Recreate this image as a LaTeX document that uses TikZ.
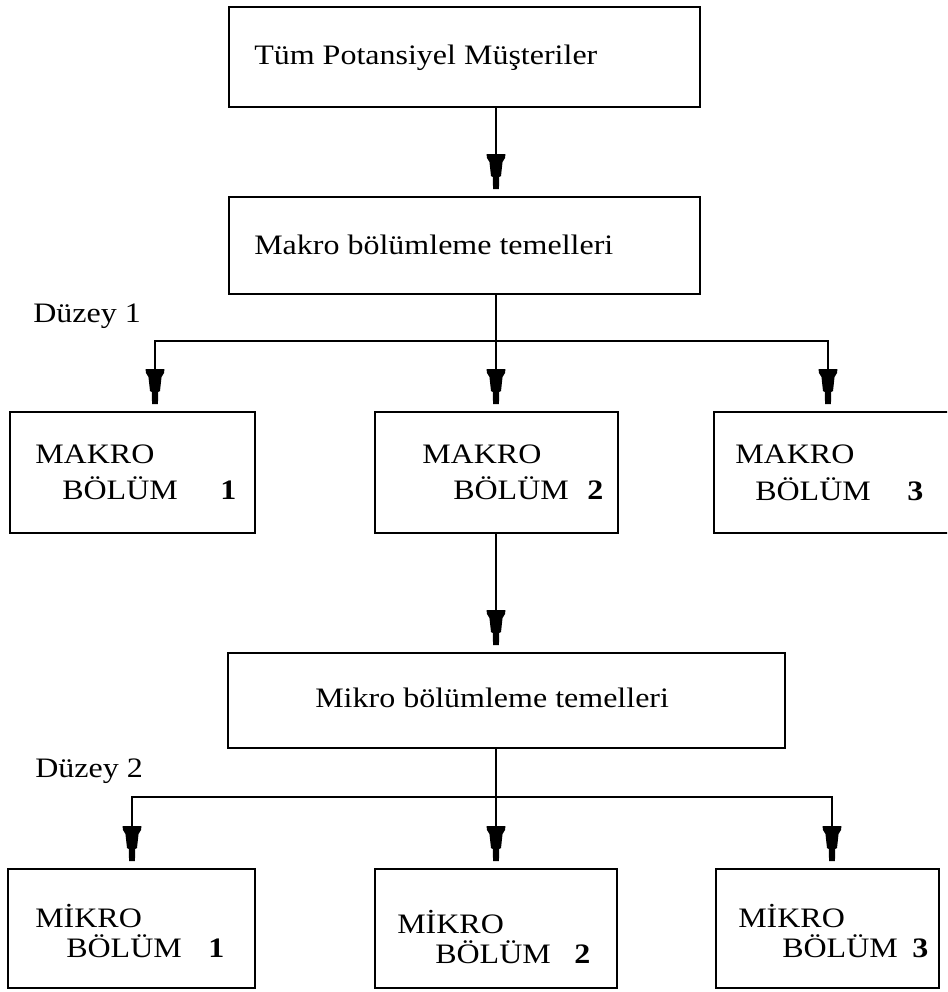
\documentclass[tikz,border=0pt]{standalone}
\usepackage{fontspec}
\setmainfont{Liberation Serif}
\usetikzlibrary{arrows.meta,fit}

% Tack-shaped arrow head: wide flat back, tapering body, narrow stem at the tip
\pgfdeclarearrow{
  name = Tack,
  setup code = {
    \pgfarrowssettipend{0pt}
    \pgfarrowssetlineend{-6pt}
    \pgfarrowssetbackend{-26.25pt}
  },
  drawing code = {
    \pgfpathmoveto{\pgfqpoint{0pt}{2.2pt}}
    \pgfpathlineto{\pgfqpoint{-9pt}{2.4pt}}
    \pgfpathlineto{\pgfqpoint{-9.75pt}{3.75pt}}
    \pgfpathlineto{\pgfqpoint{-20.25pt}{4.9pt}}
    \pgfpathlineto{\pgfqpoint{-23.25pt}{6.75pt}}
    \pgfpathlineto{\pgfqpoint{-26.25pt}{7.1pt}}
    \pgfpathlineto{\pgfqpoint{-26.25pt}{-7.1pt}}
    \pgfpathlineto{\pgfqpoint{-23.25pt}{-6.75pt}}
    \pgfpathlineto{\pgfqpoint{-20.25pt}{-4.9pt}}
    \pgfpathlineto{\pgfqpoint{-9.75pt}{-3.75pt}}
    \pgfpathlineto{\pgfqpoint{-9pt}{-2.4pt}}
    \pgfpathlineto{\pgfqpoint{0pt}{-2.2pt}}
    \pgfpathclose
    \pgfusepathqfill
  }
}

\newcommand\sqz[1]{\scalebox{1}[0.88]{#1}}

\tikzset{
  box/.style={draw, line width=1.5pt, rectangle, inner sep=0pt},
  lbl/.style={anchor=base west, inner sep=0pt, font=\fontsize{24}{28}\selectfont},
  num/.style={lbl, font=\fontsize{24}{28}\selectfont\bfseries},
  conn/.style={line width=1.5pt, line cap=rect},
  arr/.style={line width=1.5pt, -Tack, shorten >=5.25pt},
}

\begin{document}
\begin{tikzpicture}[x=0.75pt, y=-0.75pt]
\useasboundingbox (0,0) rectangle (947,992);
\clip (0,0) rectangle (947,992);

% ---- level 0 and macro segmentation bases
\node[box, fit={(229,7) (700,107)}] (all) {};
\node[lbl] (allt) at (254,64) {\sqz{Tüm Potansiyel Müşteriler}};

\node[box, fit={(229,197) (700,294)}] (mac) {};
\node[lbl] (mact) at (254,254) {\sqz{Makro bölümleme temelleri}};

\node[lbl] (lev1) at (33,322) {\sqz{Düzey 1}};

% ---- macro segments
\node[box, fit={(10,412) (255,533)}] (mb1) {};
\node[lbl] (mb1a) at (35,463) {\sqz{MAKRO}};
\node[lbl] (mb1b) at (62,499) {\sqz{BÖLÜM}};
\node[num] (mb1n) at (220,499) {\sqz{1}};

\node[box, fit={(375,412) (618,533)}] (mb2) {};
\node[lbl] (mb2a) at (422,463) {\sqz{MAKRO}};
\node[lbl] (mb2b) at (453,499) {\sqz{BÖLÜM}};
\node[num] (mb2n) at (587,499) {\sqz{2}};

\node[box, fit={(714,412) (970,533)}] (mb3) {};
\node[lbl] (mb3a) at (735,463) {\sqz{MAKRO}};
\node[lbl] (mb3b) at (755,500) {\sqz{BÖLÜM}};
\node[num] (mb3n) at (907,500) {\sqz{3}};

% ---- micro segmentation bases
\node[box, fit={(228,653) (785,748)}] (mic) {};
\node[lbl] (mict) at (315,707) {\sqz{Mikro bölümleme temelleri}};

\node[lbl] (lev2) at (35,777) {\sqz{Düzey 2}};

% ---- micro segments
\node[box, fit={(8,869) (255,988)}] (ub1) {};
\node[lbl] (ub1a) at (35,927) {\sqz{MİKRO}};
\node[lbl] (ub1b) at (66,957) {\sqz{BÖLÜM}};
\node[num] (ub1n) at (208,957) {\sqz{1}};

\node[box, fit={(375,869) (617,988)}] (ub2) {};
\node[lbl] (ub2a) at (397,933) {\sqz{MİKRO}};
\node[lbl] (ub2b) at (435,963) {\sqz{BÖLÜM}};
\node[num] (ub2n) at (574,963) {\sqz{2}};

\node[box, fit={(716,869) (939,988)}] (ub3) {};
\node[lbl] (ub3a) at (738,927) {\sqz{MİKRO}};
\node[lbl] (ub3b) at (782,957) {\sqz{BÖLÜM}};
\node[num] (ub3n) at (912,957) {\sqz{3}};

% ---- branch points
\coordinate (c0) at (496,0);
\coordinate (b1) at (496,341);
\coordinate (b1l) at (155,341);
\coordinate (b1r) at (828,341);
\coordinate (b2) at (496,797);
\coordinate (b2l) at (132,797);
\coordinate (b2r) at (832,797);

% ---- connectors
\draw[arr] (c0 |- all.south) -- (c0 |- mac.north);
\draw[conn] (c0 |- mac.south) -- (b1);
\draw[conn] (b1l) -- (b1r);
\draw[arr] (b1l) -- (b1l |- mb1.north);
\draw[arr] (b1) -- (b1 |- mb2.north);
\draw[arr] (b1r) -- (b1r |- mb3.north);

\draw[arr] (c0 |- mb2.south) -- (c0 |- mic.north);
\draw[conn] (c0 |- mic.south) -- (b2);
\draw[conn] (b2l) -- (b2r);
\draw[arr] (b2l) -- (b2l |- ub1.north);
\draw[arr] (b2) -- (b2 |- ub2.north);
\draw[arr] (b2r) -- (b2r |- ub3.north);
\end{tikzpicture}
\end{document}
